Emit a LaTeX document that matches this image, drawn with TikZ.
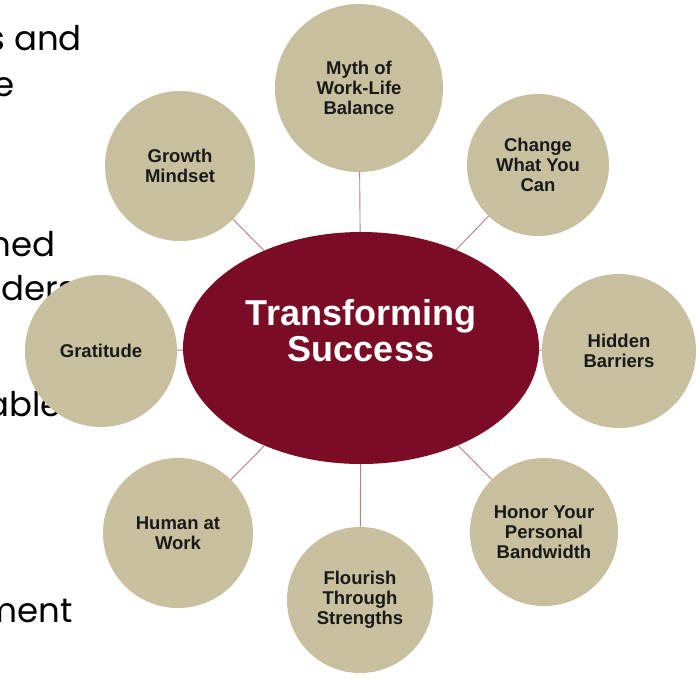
\documentclass[tikz,border=0pt]{standalone}
\usepackage{fontspec}
\setmainfont{Liberation Sans}
\newfontfamily\geofont{Poppins}
\usetikzlibrary{shapes.geometric}
\definecolor{tan}{HTML}{C8BF9F}
\definecolor{maroon}{HTML}{7A0C26}
\definecolor{linkc}{HTML}{C07A82}
\tikzset{
  topic/.style={circle, fill=tan, inner sep=0pt, align=center, font=\fontsize{18.5}{20}\selectfont\bfseries, text=black!90},
  conn/.style={draw=linkc, line width=0.9pt},
  bgtext/.style={font=\geofont\fontsize{34}{36}\selectfont, text=black, inner sep=0pt, anchor=base east}
}
\begin{document}
\begin{tikzpicture}[x=1pt,y=-1pt]
\clip (0,0) rectangle (700,685);
\fill[white] (0,0) rectangle (700,685);
% background text fragments
\node[bgtext] (t1) at (82,51) {s and};
\node[bgtext] (t2) at (15,96) {e};
\node[bgtext] (t3) at (56,256) {ned};
\node[bgtext] (t4) at (76,300) {ders};
\node[bgtext] (t5) at (62,416) {able};
\node[bgtext] (t6) at (73,622) {ment};
% centre
\node[ellipse, fill=maroon, minimum width=356pt, minimum height=232pt] (c) at (361,348) {};
\node[font=\fontsize{36}{36}\selectfont\bfseries, text=white, align=center] (ct) at (361,331) {Transforming\\Success};
% topics
\node[topic, minimum size=168pt] (n1) at (359,88) {Myth of\\Work-Life\\Balance};
\node[topic, minimum size=142pt] (n2) at (538,165) {Change\\What You\\Can};
\node[topic, minimum size=154pt] (n3) at (619,351) {Hidden\\Barriers};
\node[topic, minimum size=148pt] (n4) at (544,532) {Honor Your\\Personal\\Bandwidth};
\node[topic, minimum size=146pt] (n5) at (360,600) {Flourish\\Through\\Strengths};
\node[topic, minimum size=150pt] (n6) at (178,533) {Human at\\Work};
\node[topic, minimum size=152pt] (n7) at (101,351) {Gratitude};
\node[topic, minimum size=150pt] (n8) at (180,166) {Growth\\Mindset};
% connectors
\foreach \n in {n1,n2,n3,n4,n5,n6,n7,n8} {\draw[conn] (c) -- (\n);}
\end{tikzpicture}
\end{document}
